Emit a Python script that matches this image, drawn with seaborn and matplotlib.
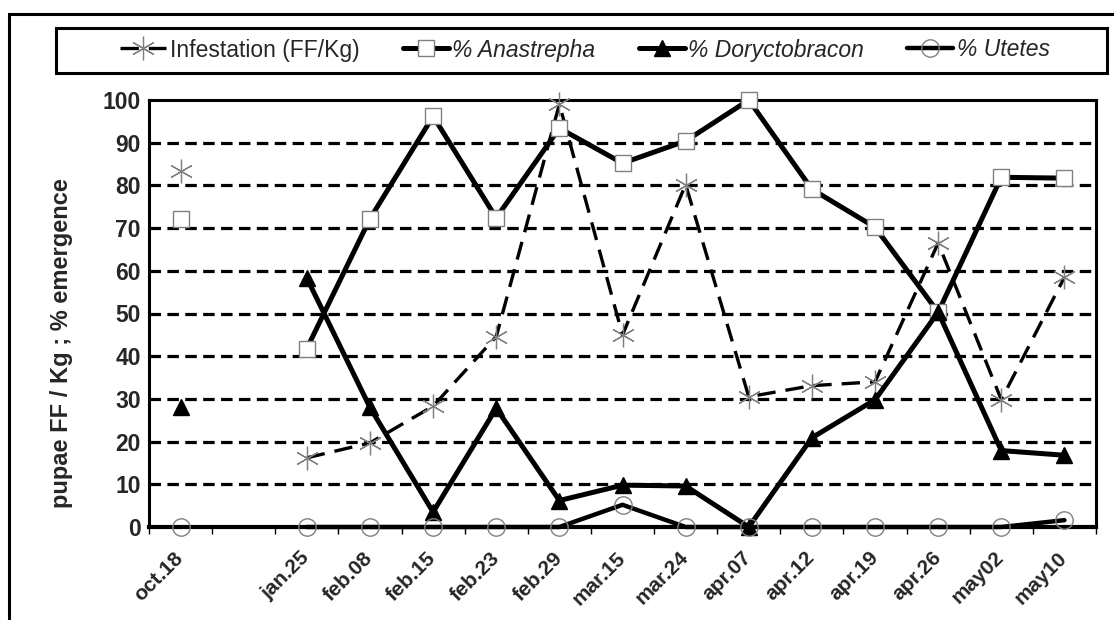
import numpy as np
import pandas as pd
import matplotlib
matplotlib.use("Agg")
import matplotlib.pyplot as plt
from matplotlib.lines import Line2D
from matplotlib.patches import Rectangle
from matplotlib import font_manager
import seaborn as sns

# sampling dates (blank slot = no sampling between oct and jan)
dates = ['oct.18', '', 'jan.25', 'feb.08', 'feb.15', 'feb.23', 'feb.29', 'mar.15',
         'mar.24', 'apr.07', 'apr.12', 'apr.19', 'apr.26', 'may02', 'may10']
segment = [0, 0, 1, 1, 1, 1, 1, 1, 1, 1, 1, 1, 1, 1, 1]

nan = np.nan
infestation = [83.3, nan, 16.2, 19.7, 28.3, 44.6, 99.0, 45.0, 80.2, 30.5, 33.1, 34.0, 66.5, 29.8, 58.5]
anastrepha = [72.2, nan, 41.8, 72.2, 96.2, 72.4, 93.4, 85.2, 90.4, 100.0, 79.1, 70.2, 50.3, 81.9, 81.7]
doryctobracon = [28.0, nan, 58.3, 28.0, 3.5, 27.8, 6.2, 9.8, 9.6, 0.0, 20.9, 29.8, 50.3, 17.9, 16.8]
utetes = [0.0, nan, 0.0, 0.0, 0.0, 0.0, 0.0, 5.2, 0.0, 0.0, 0.0, 0.0, 0.0, 0.0, 1.6]

series_names = ['Infestation (FF/Kg)', '% Anastrepha', '% Doryctobracon', '% Utetes']

frames = []
for name, vals in zip(series_names, [infestation, anastrepha, doryctobracon, utetes]):
    frames.append(pd.DataFrame({'pos': np.arange(len(dates)), 'seg': segment,
                                'value': vals, 'series': name}))
df = pd.concat(frames, ignore_index=True).dropna()

sns.set_theme(style='white')
plt.rcParams['font.family'] = ['Liberation Sans', 'DejaVu Sans']

# narrow face for the legend if it is there
installed = {f.name for f in font_manager.fontManager.ttflist}
legend_font = 'Liberation Sans Narrow' if 'Liberation Sans Narrow' in installed else 'Liberation Sans'
legend_size = 19 if legend_font == 'Liberation Sans Narrow' else 16.5

fig = plt.figure(figsize=(11.14, 6.2), dpi=100)
ax = fig.add_axes([149 / 1114, 1 - 527 / 620, (1096 - 149) / 1114, (527 - 100) / 620])

gray = '#808080'
styles = {
    'Infestation (FF/Kg)': dict(color='black', lw=2.4, linestyle=(0, (5.5, 3)),
                                marker=(6, 2, 0), markersize=17, markeredgecolor=gray,
                                markeredgewidth=0.9, zorder=3),
    '% Anastrepha': dict(color='black', lw=3.6, linestyle='-', marker='s', markersize=11.5,
                         markerfacecolor='white', markeredgecolor=gray,
                         markeredgewidth=1.0, zorder=4),
    '% Doryctobracon': dict(color='black', lw=3.6, linestyle='-', marker='^', markersize=11.5,
                            markerfacecolor='black', markeredgecolor='black',
                            markeredgewidth=1.0, zorder=5),
    '% Utetes': dict(color='black', lw=3.2, linestyle='-', marker='o', markersize=12.5,
                     markerfacecolor='none', markeredgecolor=gray,
                     markeredgewidth=1.0, zorder=6),
}

for name in series_names:
    sub = df[df['series'] == name]
    sns.lineplot(data=sub, x='pos', y='value', units='seg', estimator=None,
                 ax=ax, legend=False, clip_on=False, **styles[name])

ax.set_xlim(-0.5, len(dates) - 0.5)
ax.set_ylim(0, 100)
ax.set_yticks(np.arange(0, 101, 10))
ax.set_yticklabels([str(v) for v in range(0, 101, 10)], fontsize=16.5, fontweight='bold')
ax.set_xticks(np.arange(len(dates)))
ax.set_xticklabels(dates, rotation=45, ha='right', va='center', rotation_mode='anchor',
                   fontsize=15, fontweight='bold')
ax.set_xticks(np.arange(-0.5, len(dates), 1), minor=True)
ax.tick_params(axis='x', which='major', length=0, pad=20)
ax.tick_params(axis='x', which='minor', length=5, width=1, color='black', direction='out', bottom=True)
ax.tick_params(axis='y', length=0, pad=6)
ax.set_xlabel('')
ax.set_ylabel('pupae FF / Kg ; % emergence', fontsize=17, fontweight='bold')
ax.yaxis.set_label_coords(-0.08, 0.43)

for y in range(10, 100, 10):
    ax.axhline(y, color='black', lw=2.3, linestyle=(0, (3.6, 2)), zorder=1)

for side in ['top', 'right', 'left']:
    ax.spines[side].set_color('black')
    ax.spines[side].set_linewidth(2.2)
ax.spines['bottom'].set_color('black')
ax.spines['bottom'].set_linewidth(3.0)

# legend
handles = []
for name in series_names:
    st = dict(styles[name])
    st.pop('zorder')
    handles.append(Line2D([], [], **st))
leg = fig.legend(handles, series_names, loc='center', bbox_to_anchor=(585 / 1114, 1 - 50 / 620),
                 ncol=4, frameon=False, prop={'family': legend_font, 'size': legend_size},
                 handlelength=2.0, handletextpad=0.15, columnspacing=1.9)
for t in leg.get_texts()[1:]:
    t.set_fontstyle('italic')

fig.add_artist(Rectangle((56 / 1114, 1 - 73 / 620), (1107 - 56) / 1114, 45 / 620,
                         transform=fig.transFigure, fill=False, lw=2.2, ec='black'))
fig.add_artist(Rectangle((9 / 1114, -0.1), 1.2, 0.1 + 1 - 14 / 620,
                         transform=fig.transFigure, fill=False, lw=2.2, ec='black'))

fig.savefig('out.png', dpi=100)
